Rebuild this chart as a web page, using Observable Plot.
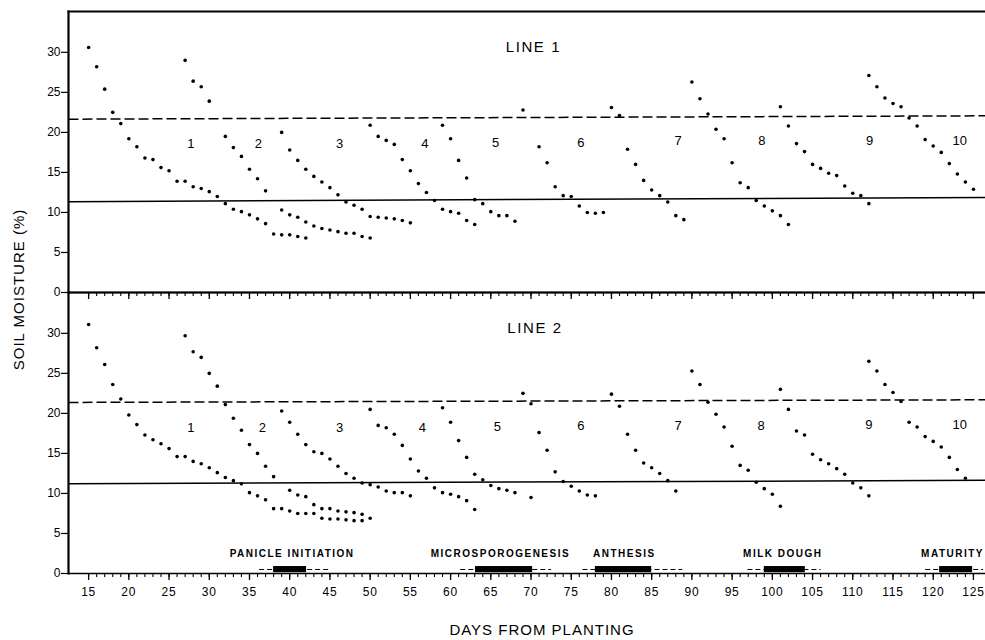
<!DOCTYPE html>
<html><head><meta charset="utf-8">
<script src="https://cdn.jsdelivr.net/npm/d3@7"></script>
<script src="https://cdn.jsdelivr.net/npm/@observablehq/plot@0.6"></script>
<style>
body{margin:0;background:#fff;}
#chart svg{font-family:"Liberation Sans",Arial,Helvetica,sans-serif;}
g.pheno text{letter-spacing:1.5px;}
g.xtitle text{letter-spacing:1px;}
g.ytitle text{letter-spacing:1px;}
g.ptitle text{letter-spacing:1.6px;}
g.xlab text{letter-spacing:0.8px;}
</style></head><body><div id="chart"></div>
<script>
// ---- panels ----
const panels = ["LINE 1", "LINE 2"];
const xDomain = [12.5, 126.5];
const yDomain = [0, 35.1];
const yTicks = [0, 5, 10, 15, 20, 25, 30];
const minorDays = d3.range(15, 126);
const majorDays = d3.range(15, 126, 5);

// ---- LINE 1: drying curves (start day, daily soil moisture %) ----
const line1Starts = [15, 27, 39, 50, 59, 69, 80, 90, 101, 112];
const line1Curves = [
  [30.6, 28.2, 25.4, 22.5, 21.1, 19.2, 18.2, 16.8, 16.6, 15.6, 15.2, 13.9, 13.9, 13.2, 13.0, 12.6, 12.0, 11.1, 10.4, 10.1, 9.7, 9.2, 8.6, 7.3, 7.2, 7.2, 7.0, 6.8],
  [29.0, 26.4, 25.7, 23.9, null, 19.5, 18.1, 17.0, 15.4, 14.2, 12.7, null, 10.3, 9.7, 9.4, 8.8, 8.3, 8.0, 7.8, 7.6, 7.4, 7.4, 7.0, 6.8],
  [20.0, 17.8, 16.5, 15.4, 14.5, 13.8, 13.1, 12.2, 11.3, 10.9, 10.4, 9.5, 9.4, 9.3, 9.2, 9.0, 8.7],
  [20.9, 19.5, 19.0, 18.5, 16.6, 15.2, 13.6, 12.5, 11.5, 10.4, 10.1, 9.9, 9.0, 8.5],
  [20.9, 19.2, 16.5, 14.3, 11.6, 11.1, 10.1, 9.6, 9.6, 8.9],
  [22.8, null, 18.2, 16.2, 13.2, 12.1, 12.0, 10.8, 10.0, 9.9, 10.0],
  [23.1, 22.1, 17.9, 16.0, 14.0, 12.8, 12.1, 11.3, 9.6, 9.1],
  [26.3, 24.2, 22.3, 20.4, 19.2, 16.2, 13.7, 13.1, 11.5, 10.8, 10.2, 9.6, 8.5],
  [23.2, 20.8, 18.6, 17.6, 16.0, 15.5, 14.9, 14.6, 13.3, 12.4, 12.1, 11.1],
  [27.1, 25.7, 24.3, 23.6, 23.2, 21.8, 20.8, 19.1, 18.3, 17.5, 16.1, 14.8, 13.8, 12.9]
];

// ---- LINE 2 ----
const line2Starts = [15, 27, 39, 50, 59, 69, 80, 90, 101, 112];
const line2Curves = [
  [31.1, 28.2, 26.1, 23.6, 21.8, 19.8, 18.6, 17.3, 16.7, 16.2, 15.6, 14.6, 14.6, 14.0, 13.7, 13.2, 12.6, 12.0, 11.6, 11.2, 10.1, 9.7, 9.2, 8.1, 8.1, 7.8, 7.5, 7.5, 7.5, 6.9, 6.8, 6.8, 6.7, 6.6, 6.6, 6.9],
  [29.7, 27.7, 27.0, 25.0, 23.4, 21.1, 19.4, 17.9, 16.1, 15.0, 13.4, 12.1, null, 10.4, 9.8, 9.6, 8.6, 8.1, 8.1, 7.8, 7.7, 7.6, 7.4],
  [20.3, 18.9, 17.4, 16.1, 15.2, 15.0, 14.3, 13.4, 12.5, 11.9, 11.3, 11.1, 10.8, 10.3, 10.1, 10.1, 9.7],
  [20.5, 18.5, 18.2, 17.4, 16.0, 14.3, 12.8, 11.9, 10.7, 10.1, 9.9, 9.6, 9.1, 8.0],
  [20.7, 18.9, 16.6, 14.5, 12.4, 11.7, 11.0, 10.6, 10.4, 10.1, null, 9.5],
  [22.5, 21.2, 17.6, 15.4, 12.7, 11.5, 10.9, 10.3, 9.8, 9.7],
  [22.4, 20.9, 17.4, 15.4, 13.8, 13.2, 12.5, 11.6, 10.3],
  [25.3, 23.6, 21.4, 19.9, 18.3, 15.9, 13.5, 12.9, 11.4, 10.6, 9.9, 8.4],
  [23.0, 20.5, 17.8, 17.3, 14.9, 14.2, 13.7, 13.1, 12.4, 11.3, 10.7, 9.7],
  [26.5, 25.3, 23.6, 22.6, 21.5, 18.9, 18.3, 17.1, 16.5, 15.8, 14.5, 13.0, 11.9]
];

// ---- reference lines (value at left edge, value at right edge) ----
const refPanel = ["LINE 1", "LINE 1", "LINE 2", "LINE 2"];
const refLeft  = [21.65, 11.35, 21.37, 11.22];
const refRight = [22.07, 11.88, 21.70, 11.64];
const refDashed = [true, false, true, false];

// ---- cycle numbers ----
const cycleNames = ["1", "2", "3", "4", "5", "6", "7", "8", "9", "10"];
const cycleDays1 = [27.7, 36.1, 46.2, 56.8, 65.6, 76.2, 88.3, 98.7, 112.1, 123.3];
const cycleDays2 = [27.7, 36.6, 46.2, 56.5, 65.8, 76.2, 88.3, 98.6, 112.0, 123.3];
const cycleY1 = [18.6, 18.6, 18.6, 18.6, 18.7, 18.7, 18.9, 18.9, 19.0, 19.0];
const cycleY2 = [18.2, 18.2, 18.2, 18.2, 18.3, 18.4, 18.4, 18.4, 18.6, 18.6];

// ---- panel titles ----
const titleDays = [70.3, 70.5];
const titleY = [30.6, 30.7];

// ---- growth stages ----
const stages = ["PANICLE INITIATION", "MICROSPOROGENESIS", "ANTHESIS", "MILK DOUGH", "MATURITY"];
const stageStart = [38.0, 63.1, 78.0, 99.0, 120.8];
const stageEnd = [42.1, 70.2, 85.0, 104.1, 124.9];
const stageDashStart = [36.2, 61.2, 76.4, 96.9, 119.0];
const stageDashEnd = [45.1, 72.5, 88.8, 106.0, 126.2];
const stageLabelDay = [40.3, 66.2, 81.6, 101.3, 122.4];

// ---- build tables ----
const points = [];
function addCurves(panel, starts, curves) {
  curves.forEach((vals, i) => vals.forEach((v, j) => {
    if (v != null) points.push({panel, day: starts[i] + j, value: v});
  }));
}
addCurves("LINE 1", line1Starts, line1Curves);
addCurves("LINE 2", line2Starts, line2Curves);

const refRows = refPanel.map((p, i) => ({panel: p, x1: xDomain[0], x2: xDomain[1], y1: refLeft[i], y2: refRight[i], dashed: refDashed[i]}));
const cycleRows = [
  ...cycleNames.map((n, i) => ({panel: "LINE 1", label: n, day: cycleDays1[i], y: cycleY1[i]})),
  ...cycleNames.map((n, i) => ({panel: "LINE 2", label: n, day: cycleDays2[i], y: cycleY2[i]}))
];
const titleRows = panels.map((p, i) => ({panel: p, day: titleDays[i], y: titleY[i]}));
const stageRows = stages.map((s, i) => ({panel: "LINE 2", name: s, start: stageStart[i], end: stageEnd[i], ds: stageDashStart[i], de: stageDashEnd[i], lx: stageLabelDay[i]}));

const chart = Plot.plot({
  width: 985,
  height: 640,
  marginLeft: 68,
  marginRight: 0,
  marginTop: 10,
  marginBottom: 67,
  style: {fontFamily: "'Liberation Sans', Arial, sans-serif", fontSize: "12px", color: "#000", background: "#fff"},
  x: {domain: xDomain, label: null},
  y: {domain: yDomain, label: null},
  fy: {domain: panels, padding: 0, axis: null, label: null},
  marks: [
    Plot.axisY(yTicks, {tickSize: 7, tickPadding: 1, fontSize: 12, strokeWidth: 1.2, label: null}),
    Plot.axisX(minorDays, {tickSize: 4, tickFormat: () => "", facetAnchor: null, label: null, strokeWidth: 1.1}),
    Plot.axisX(majorDays, {tickSize: 7, tickFormat: () => "", facetAnchor: null, label: null, strokeWidth: 1.3}),
    Plot.axisX(majorDays, {tickSize: 0, tickPadding: 14, fontSize: 12, label: null, className: "xlab"}),
    Plot.frame({anchor: "left", strokeWidth: 2.2}),
    Plot.frame({anchor: "top", strokeWidth: 2}),
    Plot.ruleY([0], {strokeWidth: 1.6}),
    Plot.link(refRows.filter(d => d.dashed), {x1: "x1", x2: "x2", y1: "y1", y2: "y2", fy: "panel", stroke: "#000", strokeWidth: 1.5, strokeDasharray: "10,4"}),
    Plot.link(refRows.filter(d => !d.dashed), {x1: "x1", x2: "x2", y1: "y1", y2: "y2", fy: "panel", stroke: "#000", strokeWidth: 1.5}),
    Plot.dot(points, {x: "day", y: "value", fy: "panel", r: 1.8, fill: "#000", stroke: null}),
    Plot.text(cycleRows, {x: "day", y: "y", fy: "panel", text: "label", fontSize: 13}),
    Plot.text(titleRows, {x: "day", y: "y", fy: "panel", text: "panel", fontSize: 15, className: "ptitle"}),
    Plot.link(stageRows, {x1: "ds", x2: "de", y1: 0.5, y2: 0.5, fy: "panel", stroke: "#000", strokeWidth: 1, strokeDasharray: "5,3"}),
    Plot.rect(stageRows, {x1: "start", x2: "end", y1: 0.1, y2: 0.87, fy: "panel", fill: "#000"}),
    Plot.text(stageRows, {x: "lx", y: 2.4, fy: "panel", text: "name", fontSize: 10, fontWeight: "bold", className: "pheno"}),
    Plot.text(["DAYS FROM PLANTING"], {fy: () => "LINE 2", frameAnchor: "bottom", textAnchor: "middle", lineAnchor: "middle", dy: 57, dx: 15, fontSize: 15, className: "xtitle"}),
    Plot.text(["SOIL MOISTURE (%)"], {fy: () => "LINE 1", frameAnchor: "bottom-left", textAnchor: "middle", lineAnchor: "middle", rotate: -90, dx: -49, dy: -3, fontSize: 15, className: "ytitle"})
  ]
});
document.getElementById("chart").appendChild(chart);
</script>
</body></html>
